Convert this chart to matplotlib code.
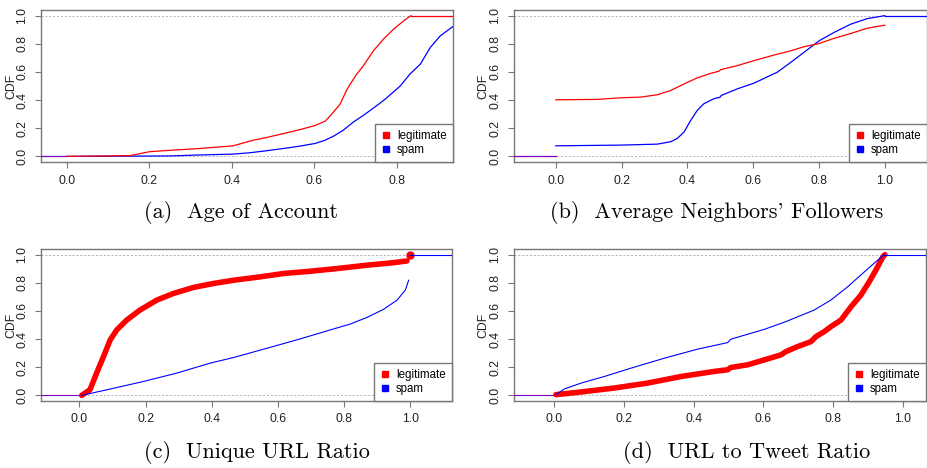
import matplotlib
matplotlib.use("Agg")
import matplotlib.pyplot as plt
from matplotlib.lines import Line2D

# ---------------- data ----------------
# (a) Age of Account
a_leg_x = [0.0, 0.152, 0.2, 0.233, 0.322, 0.403, 0.452, 0.484, 0.525, 0.565, 0.602, 0.626,
           0.642, 0.662, 0.678, 0.687, 0.703, 0.719, 0.743, 0.768, 0.792, 0.816, 0.834]
a_leg_y = [0.0, 0.005, 0.033, 0.04, 0.056, 0.075, 0.115, 0.134, 0.162, 0.19, 0.22, 0.25,
           0.3, 0.37, 0.47, 0.515, 0.586, 0.645, 0.75, 0.835, 0.904, 0.962, 1.0]
a_spam_x = [0.0, 0.25, 0.322, 0.403, 0.444, 0.484, 0.525, 0.565, 0.602, 0.626, 0.646, 0.67,
            0.695, 0.719, 0.743, 0.768, 0.788, 0.808, 0.832, 0.857, 0.881, 0.905, 0.938]
a_spam_y = [0.0, 0.003, 0.01, 0.016, 0.026, 0.04, 0.056, 0.073, 0.092, 0.115, 0.143, 0.186,
            0.245, 0.292, 0.343, 0.398, 0.449, 0.5, 0.586, 0.656, 0.774, 0.856, 0.927]

# (b) Average Neighbors' Followers
b_leg_x = [0.0, 0.127, 0.197, 0.258, 0.309, 0.349, 0.39, 0.43, 0.471, 0.496, 0.501, 0.552,
           0.602, 0.663, 0.714, 0.754, 0.8, 0.845, 0.896, 0.947, 1.0]
b_leg_y = [0.402, 0.405, 0.416, 0.421, 0.438, 0.468, 0.515, 0.558, 0.59, 0.605, 0.616, 0.645,
           0.68, 0.72, 0.75, 0.779, 0.802, 0.838, 0.873, 0.911, 0.932]
b_spam_x = [0.0, 0.197, 0.309, 0.349, 0.369, 0.39, 0.41, 0.43, 0.45, 0.481, 0.499, 0.503,
            0.552, 0.602, 0.673, 0.714, 0.754, 0.8, 0.845, 0.896, 0.947, 1.0]
b_spam_y = [0.075, 0.08, 0.087, 0.104, 0.127, 0.174, 0.256, 0.327, 0.374, 0.41, 0.42, 0.433,
            0.48, 0.52, 0.598, 0.668, 0.739, 0.821, 0.88, 0.939, 0.979, 1.0]

# (c) Unique URL Ratio
c_leg_x = [0.007, 0.032, 0.052, 0.073, 0.093, 0.113, 0.143, 0.183, 0.234, 0.284, 0.345, 0.405,
           0.466, 0.546, 0.617, 0.698, 0.778, 0.869, 0.95, 0.99]
c_leg_y = [0.0, 0.04, 0.158, 0.276, 0.394, 0.465, 0.535, 0.606, 0.677, 0.724, 0.767, 0.795,
           0.818, 0.842, 0.866, 0.882, 0.901, 0.925, 0.943, 0.955]
c_leg_last = (1.0, 1.0)
c_spam_x = [0.007, 0.093, 0.194, 0.294, 0.395, 0.466, 0.567, 0.667, 0.768, 0.819, 0.869, 0.919,
            0.96, 0.985, 0.995]
c_spam_y = [0.0, 0.045, 0.099, 0.158, 0.229, 0.269, 0.335, 0.401, 0.472, 0.507, 0.554, 0.611,
            0.677, 0.748, 0.818]

# (d) URL to Tweet Ratio
d_leg_x = [0.005, 0.077, 0.172, 0.268, 0.364, 0.459, 0.498, 0.507, 0.555, 0.603, 0.651, 0.665,
           0.699, 0.737, 0.751, 0.775, 0.794, 0.823, 0.852, 0.88, 0.904, 0.923, 0.943, 0.949]
d_leg_y = [0.005, 0.024, 0.052, 0.087, 0.134, 0.17, 0.182, 0.198, 0.217, 0.252, 0.288, 0.311,
           0.347, 0.382, 0.417, 0.453, 0.488, 0.535, 0.63, 0.712, 0.807, 0.889, 0.983, 1.0]
d_spam_x = [0.005, 0.029, 0.077, 0.144, 0.22, 0.316, 0.411, 0.498, 0.507, 0.603, 0.665, 0.746,
            0.794, 0.842, 0.89, 0.928, 0.947]
d_spam_y = [0.005, 0.045, 0.087, 0.134, 0.193, 0.264, 0.328, 0.375, 0.399, 0.469, 0.524, 0.606,
            0.677, 0.771, 0.877, 0.96, 1.0]

captions = ["(a)  Age of Account", "(b)  Average Neighbors' Followers",
            "(c)  Unique URL Ratio", "(d)  URL to Tweet Ratio"]
xticks = [0.0, 0.2, 0.4, 0.6, 0.8, 1.0]
yticks = [0.0, 0.2, 0.4, 0.6, 0.8, 1.0]
series_names = ["legitimate", "spam"]

RED = "#ff0000"
BLUE = "#0000ff"
PURPLE = "#7f00bf"
FRAME = "#777777"

plt.rcParams["font.family"] = ["Liberation Sans", "DejaVu Sans"]

fig = plt.figure(figsize=(9.28, 4.68), dpi=100)

W, H = 928.0, 468.0
boxes = [(41, 10, 453, 162), (514, 10, 927, 162), (41, 249, 452, 401), (514, 249, 926, 401)]
xlims = [(-0.063, 0.936), (-0.127, 1.128), (-0.116, 1.126), (-0.115, 1.067)]
# caption right ends (px) and vertical centres (px)
cap_pos = [(338, 212), (883, 212), (370, 452), (870, 452)]
ylabel_x = [17, 489, 17, 489]


def make_ax(i):
    l, t, r, b = boxes[i]
    ax = fig.add_axes([l / W, 1 - b / H, (r - l) / W, (b - t) / H])
    ax.set_xlim(*xlims[i])
    ax.set_ylim(-0.04, 1.04)
    for s in ax.spines.values():
        s.set_color(FRAME)
        s.set_linewidth(1.0)
    ticks_in = [v for v in xticks if xlims[i][0] <= v <= xlims[i][1]]
    ax.set_xticks(ticks_in)
    ax.set_xticklabels([f"{v:.1f}" for v in ticks_in])
    ax.set_yticks(yticks)
    ax.set_yticklabels([f"{v:.1f}" for v in yticks], rotation=90, va="center")
    ax.tick_params(axis="both", length=4, width=0.8, color=FRAME, labelsize=8.8,
                   labelcolor="#222222", pad=5)
    ax.set_ylabel("CDF", fontsize=8.8, color="#222222")
    ax.yaxis.set_label_coords((ylabel_x[i] - l) / (r - l), 0.5)
    ax.axhline(0, color="#b0b0b0", lw=0.7, ls=(0, (2, 2)), zorder=1)
    ax.axhline(1, color="#b0b0b0", lw=0.7, ls=(0, (2, 2)), zorder=1)
    handles = [Line2D([], [], marker="s", ls="none", color=RED, markersize=5),
               Line2D([], [], marker="s", ls="none", color=BLUE, markersize=5)]
    leg = ax.legend(handles, series_names, loc="lower right", borderaxespad=0,
                    fancybox=False, frameon=True, fontsize=8.3, handlelength=0.9,
                    handletextpad=0.5, borderpad=0.55, labelspacing=0.15,
                    edgecolor=FRAME, framealpha=1)
    leg.get_frame().set_linewidth(1.0)
    leg.set_zorder(10)
    cx, cy = cap_pos[i]
    fig.text(cx / W, 1 - cy / H, captions[i], family=["cmr10", "DejaVu Serif"],
             fontsize=16, ha="right", va="center")
    return ax


# (a)
ax = make_ax(0)
x0, x1 = ax.get_xlim()
ax.plot([x0, a_spam_x[0]], [0, 0], color=PURPLE, lw=0.9, zorder=3)
ax.plot(a_spam_x, a_spam_y, color=BLUE, lw=0.9, zorder=3)
ax.plot(a_leg_x, a_leg_y, color=RED, lw=0.9, zorder=4)
ax.plot([a_leg_x[-1], x1], [1, 1], color=RED, lw=0.9, zorder=4)

# (b)
ax = make_ax(1)
x0, x1 = ax.get_xlim()
ax.plot([x0, 0.0], [0, 0], color=PURPLE, lw=0.9, zorder=3)
ax.plot(b_spam_x, b_spam_y, color=BLUE, lw=0.9, zorder=3)
ax.plot([b_spam_x[-1], x1], [1, 1], color=BLUE, lw=0.9, zorder=3)
ax.plot(b_leg_x, b_leg_y, color=RED, lw=0.9, zorder=4)

# (c)
ax = make_ax(2)
x0, x1 = ax.get_xlim()
ax.plot([x0, c_spam_x[0]], [0, 0], color=PURPLE, lw=0.8, zorder=3)
ax.plot(c_leg_x, c_leg_y, color=RED, lw=4.0, solid_capstyle="round", zorder=3)
ax.plot([c_leg_last[0]], [c_leg_last[1]], "o", color=RED, markersize=5, zorder=3)
ax.plot(c_spam_x, c_spam_y, color=BLUE, lw=0.8, zorder=4)
ax.plot([1.0, x1], [1, 1], color=BLUE, lw=0.8, zorder=4)

# (d)
ax = make_ax(3)
x0, x1 = ax.get_xlim()
ax.plot([x0, d_spam_x[0]], [0, 0], color=PURPLE, lw=0.8, zorder=3)
ax.plot(d_leg_x, d_leg_y, color=RED, lw=4.0, solid_capstyle="round", zorder=3)
ax.plot(d_spam_x, d_spam_y, color=BLUE, lw=0.8, zorder=4)
ax.plot([d_spam_x[-1], x1], [1, 1], color=BLUE, lw=0.8, zorder=4)

fig.savefig("out.png", dpi=100)
